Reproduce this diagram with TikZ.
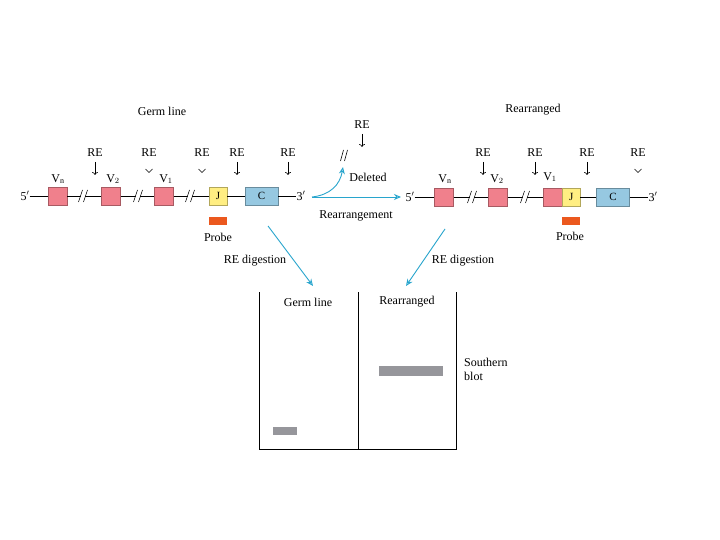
\documentclass[tikz,border=0pt]{standalone}
\usepackage{fontspec}
\setmainfont{Liberation Serif}
\usetikzlibrary{arrows.meta}
\definecolor{vpink}{RGB}{240,128,140}
\definecolor{jyel}{RGB}{255,238,130}
\definecolor{cblue}{RGB}{150,200,225}
\definecolor{probec}{RGB}{235,88,30}
\definecolor{bandc}{RGB}{150,150,155}
\definecolor{arrc}{RGB}{40,165,205}
\tikzset{
  lbl/.style={font=\fontsize{12}{14}\selectfont, inner sep=0pt},
  seg/.style={draw, minimum height=18pt, inner sep=0pt, line width=0.3pt, font=\fontsize{11}{13}\selectfont},
  vbox/.style={seg, fill=vpink, draw=vpink!70!black, minimum width=19pt},
  jbox/.style={seg, fill=jyel, draw=jyel!70!black, minimum width=18pt},
  cbox/.style={seg, fill=cblue, draw=cblue!70!black, minimum width=33pt},
  probebox/.style={fill=probec, minimum width=18pt, minimum height=8pt, inner sep=0pt},
  band/.style={fill=bandc, inner sep=0pt},
  dna/.style={line width=0.6pt},
  cutarrow/.style={line width=0.6pt, -{To[length=3pt,width=6pt]}},
  bluearrow/.style={arrc, line width=0.9pt, -{Stealth[length=7pt,width=6pt,open]}},
}
\newcommand{\brk}[2]{%
  \fill[white] (#1-4,#2+6) -- (#1,#2+6) -- (#1+4,#2-6) -- (#1,#2-6) -- cycle;
  \draw[line width=0.6pt] (#1-4.5,#2+6) -- (#1-0.5,#2-6);
  \draw[line width=0.6pt] (#1+0.5,#2+6) -- (#1+4.5,#2-6);}
\newcommand{\chev}[2]{%
  \draw[line width=0.6pt] (#1-3.5,#2-2) -- (#1,#2+1.5) -- (#1+3.5,#2-2);}
\newcommand{\subn}{$_{\mbox{\fontsize{8}{8}\selectfont n}}$}
\begin{document}
\begin{tikzpicture}[x=1pt,y=-1pt]
\useasboundingbox (0,0) rectangle (720,540);
\fill[white] (0,0) rectangle (720,540);

% ---------- Germ line ----------
\node[lbl] (gtitle) at (162,111) {Germ line};
\node[lbl] (g5) at (25,196) {5$'$};
\node[lbl] (g3) at (301,196) {3$'$};
\node[vbox] (gvn) at (57.5,196) {};
\node[vbox] (gv2) at (111,196) {};
\node[vbox] (gv1) at (164,196) {};
\node[jbox] (gj) at (218,196) {J};
\node[cbox] (gc) at (261.5,196) {C};
\draw[dna] (g5.east) -- (gvn) -- (gv2) -- (gv1) -- (gj) -- (gc) -- (g3.west);
\brk{83}{196}\brk{138}{196}\brk{190}{196}
\node[lbl] (lgvn) at (58,179) {V\subn};
\node[lbl] (lgv2) at (113,179) {V$_{2}$};
\node[lbl] (lgv1) at (166,179) {V$_{1}$};
\node[lbl] (gre1) at (95,153) {RE};
\node[lbl] (gre2) at (149,153) {RE};
\node[lbl] (gre3) at (202,153) {RE};
\node[lbl] (gre4) at (237,153) {RE};
\node[lbl] (gre5) at (288,153) {RE};
\draw[cutarrow] (95,162) -- (95,175);
\chev{149}{171}
\chev{202}{171}
\draw[cutarrow] (237,162) -- (237,175);
\draw[cutarrow] (288,162) -- (288,175);
\node[probebox] (gprobe) at (218,221) {};
\node[lbl] (gprobel) at (218,237) {Probe};

% ---------- Rearranged ----------
\node[lbl] (rtitle) at (533,110) {Rearranged};
\node[lbl] (r5) at (410,197) {5$'$};
\node[lbl] (r3) at (653,197) {3$'$};
\node[vbox] (rvn) at (444,197) {};
\node[vbox] (rv2) at (498,197) {};
\node[vbox] (rv1) at (552.5,197) {};
\node[jbox, anchor=west] (rj) at (rv1.east) {J};
\node[cbox] (rc) at (613,197) {C};
\draw[dna] (r5.east) -- (rvn) -- (rv2) -- (rv1);
\draw[dna] (rj) -- (rc) -- (r3.west);
\brk{472}{197}\brk{525}{197}
\node[lbl] (lrvn) at (445,179) {V\subn};
\node[lbl] (lrv2) at (497,179) {V$_{2}$};
\node[lbl] (lrv1) at (550,177) {V$_{1}$};
\node[lbl] (rre1) at (483,153) {RE};
\node[lbl] (rre2) at (535,153) {RE};
\node[lbl] (rre3) at (587,153) {RE};
\node[lbl] (rre4) at (638,153) {RE};
\draw[cutarrow] (483,162) -- (483,175);
\draw[cutarrow] (535,162) -- (535,175);
\draw[cutarrow] (587,162) -- (587,175);
\chev{638}{171}
\node[probebox] (rprobe) at (570.5,221) {};
\node[lbl] (rprobel) at (570,236) {Probe};

% ---------- Rearrangement ----------
\coordinate (ra) at (312,197);
\coordinate (rb) at (401,197);
\coordinate (del) at (343,167);
\draw[bluearrow] (ra) -- (rb);
\draw[bluearrow] (ra) .. controls (330,195) and (340,185) .. (del);
\node[lbl] (rarrl) at (356,216) {Rearrangement};
\node[lbl] (dell) at (368,177) {Deleted};
\node[lbl] (dre) at (362,125) {RE};
\draw[cutarrow] (362,134) -- (362,147);
\draw[line width=0.6pt] (340.5,161) -- (343.5,150);
\draw[line width=0.6pt] (344.5,161) -- (347.5,150);

% ---------- Digestion ----------
\coordinate (dl1) at (268,226);
\coordinate (dl2) at (313,286);
\coordinate (dr1) at (445,229);
\coordinate (dr2) at (406,286);
\draw[bluearrow] (dl1) -- (dl2);
\draw[bluearrow] (dr1) -- (dr2);
\node[lbl] (digl) at (255,261) {RE digestion};
\node[lbl] (digr) at (463,261) {RE digestion};

% ---------- Southern blot ----------
\draw[line width=0.6pt] (259,292) -- (259,449) -- (456,449) -- (456,292);
\draw[line width=0.6pt] (358,292) -- (358,449);
\node[lbl] (bgl) at (308,302) {Germ line};
\node[lbl] (brl) at (407,302) {Rearranged};
\node[band, minimum width=24pt, minimum height=8pt] (band1) at (285,431) {};
\node[band, minimum width=64pt, minimum height=10pt] (band2) at (411,371) {};
\node[lbl, align=left, anchor=north west] (sb) at (464,358) {Southern\\blot};
\end{tikzpicture}
\end{document}
